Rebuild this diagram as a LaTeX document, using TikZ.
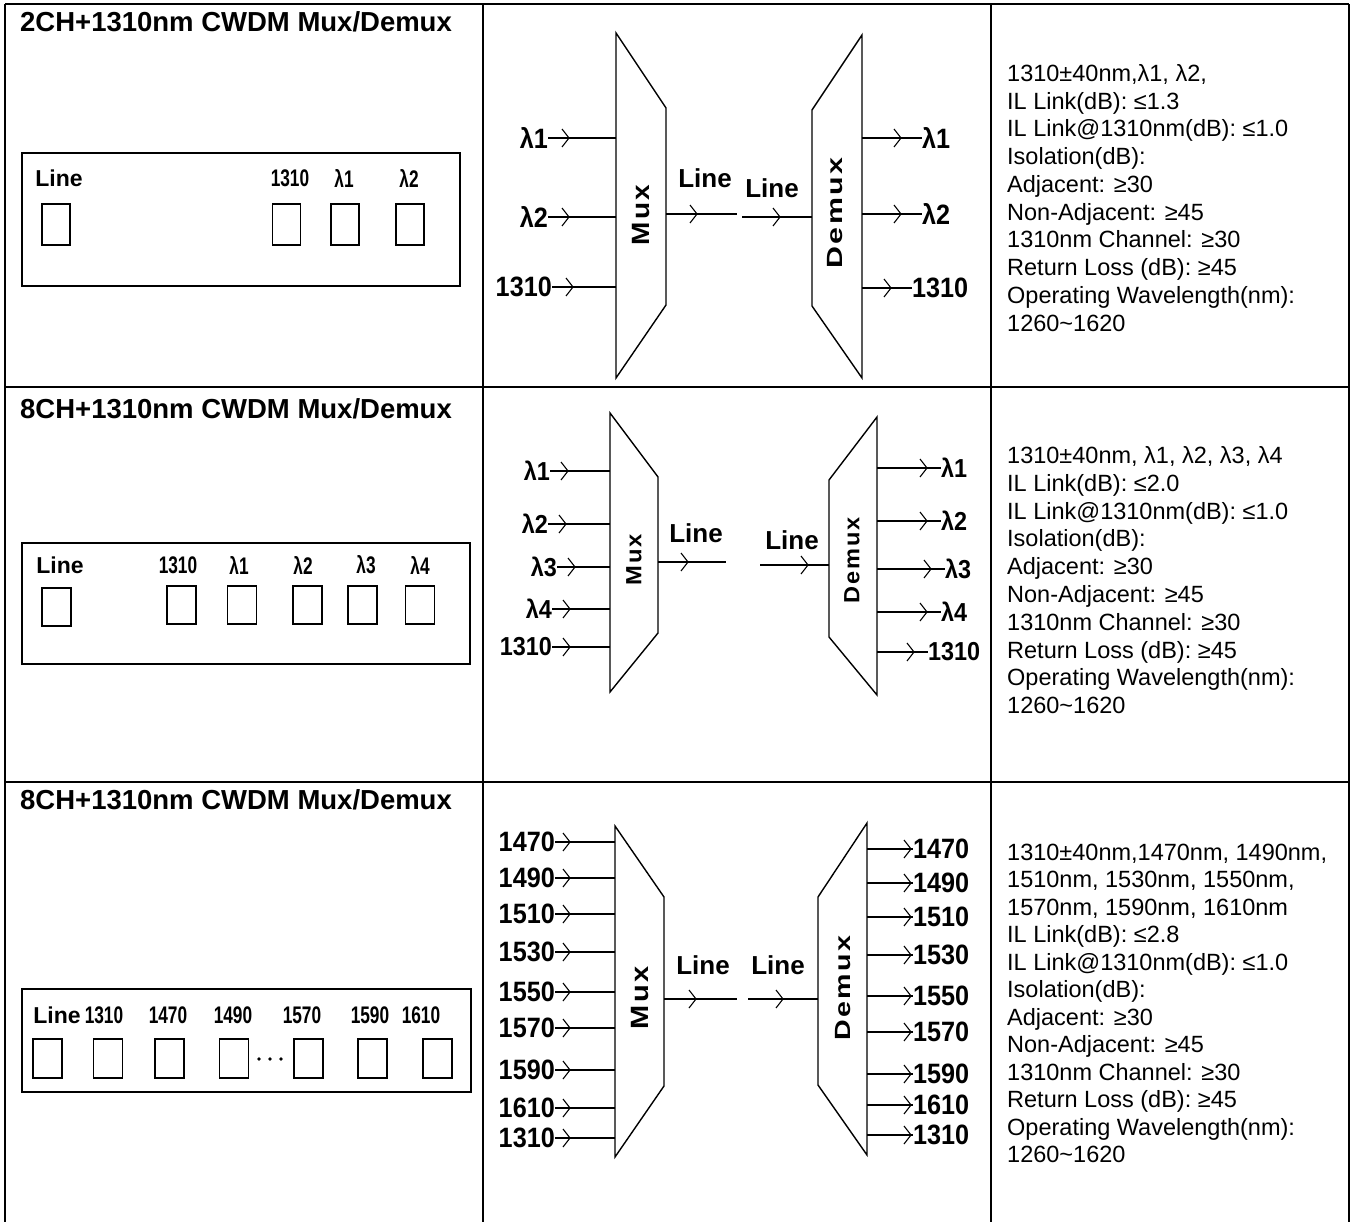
\documentclass[tikz,border=0pt]{standalone}
\usepackage{fontspec}
\setmainfont{Liberation Sans}
\newfontfamily\nfont[FakeStretch=0.9]{Liberation Sans}
\newfontfamily\pfont[FakeStretch=0.72]{Liberation Sans}
\usetikzlibrary{decorations.markings}
\newcommand{\wtext}[2]{\scalebox{#1}[1]{#2}}
\tikzset{
  tbl/.style={line width=2pt},
  wire/.style={line width=1.4pt},
  pbox/.style={line width=1.5pt},
  arr/.style={postaction={decorate},decoration={markings,mark=at position #1 with {\draw[line width=1.1pt] (-7,-9)--(0,0)--(-7,9);}}},
  title/.style={anchor=west, inner sep=0, font=\bfseries\fontsize{27.5}{30}\selectfont},
  spec/.style={anchor=base west, inner sep=0, font=\fontsize{23.5}{27.7}\selectfont},
  side/.style={inner sep=0, font=\nfont\bfseries\fontsize{#1}{#1}\selectfont},
  side/.default=28,
  pl/.style={inner sep=0, font=\pfont\bfseries\fontsize{24}{24}\selectfont},
  plineb/.style={inner sep=0, font=\bfseries\fontsize{23}{23}\selectfont},
  lbl/.style={inner sep=0, font=\bfseries\fontsize{26}{26}\selectfont},
  mux/.style={rotate=90, inner sep=0, font=\bfseries\fontsize{#1}{#1}\selectfont\addfontfeature{LetterSpace=8}},
  port/.style={draw, line width=1.4pt, inner sep=0, minimum width=28pt, minimum height=40pt},
}
\begin{document}
\begin{tikzpicture}[x=1pt,y=-1pt]
\useasboundingbox (0,0) rectangle (1352,1222);
\fill[white] (0,0) rectangle (1352,1222);
% ---------- table ----------
\draw[tbl] (5,4) -- (1349,4);
\draw[tbl] (5,387) -- (1349,387);
\draw[tbl] (5,782) -- (1349,782);
\draw[tbl] (5,4) -- (5,1222);
\draw[tbl] (483,4) -- (483,1222);
\draw[tbl] (991,4) -- (991,1222);
\draw[tbl] (1349,4) -- (1349,1222);
% ---------- titles ----------
\node[title] (t1) at (20,22) {2CH+1310nm CWDM Mux/Demux};
\node[title] (t2) at (20,409) {8CH+1310nm CWDM Mux/Demux};
\node[title] (t3) at (20,800) {8CH+1310nm CWDM Mux/Demux};
% ---------- specs ----------
\foreach \t [count=\i] in {{1310±40nm,λ1, λ2,},{IL Link(dB): ≤1.3},{IL Link@1310nm(dB): ≤1.0},{Isolation(dB):},{Adjacent: ≥30},{Non-Adjacent: ≥45},{1310nm Channel: ≥30},{Return Loss (dB): ≥45},{Operating Wavelength(nm):},{1260\textasciitilde 1620}}
  \node[spec] (sa\i) at (1007,{81.5+27.75*(\i-1)}) {\t};
\foreach \t [count=\i] in {{1310±40nm, λ1, λ2, λ3, λ4},{IL Link(dB): ≤2.0},{IL Link@1310nm(dB): ≤1.0},{Isolation(dB):},{Adjacent: ≥30},{Non-Adjacent: ≥45},{1310nm Channel: ≥30},{Return Loss (dB): ≥45},{Operating Wavelength(nm):},{1260\textasciitilde 1620}}
  \node[spec] (sb\i) at (1007,{463.5+27.8*(\i-1)}) {\t};
\foreach \t [count=\i] in {{1310±40nm,1470nm, 1490nm,},{1510nm, 1530nm, 1550nm,},{1570nm, 1590nm, 1610nm},{IL Link(dB): ≤2.8},{IL Link@1310nm(dB): ≤1.0},{Isolation(dB):},{Adjacent: ≥30},{Non-Adjacent: ≥45},{1310nm Channel: ≥30},{Return Loss (dB): ≥45},{Operating Wavelength(nm):},{1260\textasciitilde 1620}}
  \node[spec] (sc\i) at (1007,{860+27.5*(\i-1)}) {\t};
% ---------- panel 1 ----------
\draw[pbox] (22,153) rectangle (460,286);
\node[plineb] (p1L) at (59,178) {Line};
\node[pl] (p1a) at (290,178) {1310};
\node[pl] (p1b) at (344,178) {λ1};
\node[pl] (p1c) at (409,178) {λ2};
\node[port, minimum height=41pt] (q1L) at (56,224.5) {};
\node[port, minimum height=41pt] (q1a) at (286.5,224.5) {};
\node[port, minimum height=41pt] (q1b) at (345,224.5) {};
\node[port, minimum height=41pt] (q1c) at (410,224.5) {};
% ---------- panel 2 ----------
\draw[pbox] (22,543) rectangle (470,664);
\node[plineb] (p2L) at (60,565) {Line};
\foreach \t/\xx [count=\i] in {1310/178, λ1/239, λ2/303, λ3/366, λ4/420}
  \node[pl] (p2\i) at (\xx,565) {\t};
\node[port, minimum width=29pt, minimum height=38pt] (q2L) at (56.5,607) {};
\foreach \xx [count=\i] in {181.5,242,307.5,362.5,420}
  \node[port, minimum width=29pt, minimum height=38pt] (q2\i) at (\xx,605) {};
% ---------- panel 3 ----------
\draw[pbox] (22,989) rectangle (471,1092);
\node[plineb] (p3L) at (57,1015) {Line};
\foreach \t/\xx [count=\i] in {1310/104, 1470/168, 1490/233, 1570/302, 1590/370, 1610/421}
  \node[pl] (p3\i) at (\xx,1015) {\t};
\foreach \xx [count=\i] in {47.5,108,169.5,234,308.5,372.5,437.5}
  \node[port, minimum width=29pt, minimum height=39pt] (q3\i) at (\xx,1058.5) {};
\foreach \xx in {259,270,281} \fill (\xx,1059) circle (1.8);
% ---------- diagram 1 ----------
\draw[wire] (616,33) -- (666,108) -- (666,305) -- (616,378) -- cycle;
\draw[wire] (862,35) -- (812,110) -- (812,306) -- (862,378) -- cycle;
\node[mux=25] (mux1) at (641,215) {\wtext{1.12}{Mux}};
\node[mux=22] (dmx1) at (835,213) {\wtext{1.38}{Demux}};
\foreach \t/\yy/\xx [count=\i] in {λ1/138/548, λ2/217/548, 1310/287/552} {
  \node[side, anchor=east] (ia\i) at (\xx,\yy) {\t};
  \coordinate (ma\i) at (616,\yy);
  \draw[wire, arr=21pt] (ia\i.east) -- (ma\i);
}
\coordinate (moa) at (666,214); \coordinate (loa) at (737,214);
\draw[wire, arr=31pt] (moa) -- (loa);
\node[lbl] (la1) at (705,178) {Line};
\coordinate (lia) at (742,217); \coordinate (dia) at (812,217);
\draw[wire, arr=38pt] (lia) -- (dia);
\node[lbl] (la2) at (772,188) {Line};
\foreach \t/\yy/\xx [count=\i] in {λ1/138/922, λ2/214/922, 1310/288/912} {
  \coordinate (da\i) at (862,\yy);
  \node[side, anchor=west] (oa\i) at (\xx,\yy) {\t};
  \draw[wire, arr=-21pt] (da\i) -- (oa\i.west);
}
% ---------- diagram 2 ----------
\draw[wire] (610,413) -- (658,477) -- (658,633) -- (610,692) -- cycle;
\draw[wire] (877,417) -- (829,480) -- (829,637) -- (877,695) -- cycle;
\node[mux=22] (mux2) at (634,560) {\wtext{1.08}{Mux}};
\node[mux=22] (dmx2) at (852,560) {\wtext{1.07}{Demux}};
\foreach \t/\yy/\xx [count=\i] in {λ1/471/550, λ2/524/548, λ3/567/557, λ4/609/552, 1310/647/552} {
  \node[side=26, anchor=east] (ib\i) at (\xx,\yy) {\t};
  \coordinate (mb\i) at (610,\yy);
  \draw[wire, arr=18pt] (ib\i.east) -- (mb\i);
}
\coordinate (mob) at (658,562); \coordinate (lob) at (726,562);
\draw[wire, arr=30pt] (mob) -- (lob);
\node[lbl] (lb1) at (696,533) {Line};
\coordinate (lib) at (760,565); \coordinate (dib) at (829,565);
\draw[wire, arr=48pt] (lib) -- (dib);
\node[lbl] (lb2) at (792,540) {Line};
\foreach \t/\yy/\xx [count=\i] in {λ1/468/941, λ2/521/941, λ3/569/945, λ4/612/941, 1310/652/928} {
  \coordinate (db\i) at (877,\yy);
  \node[side=26, anchor=west] (ob\i) at (\xx,\yy) {\t};
  \draw[wire, arr=-14pt] (db\i) -- (ob\i.west);
}
% ---------- diagram 3 ----------
\draw[wire] (615,826) -- (664,897) -- (664,1086) -- (615,1157) -- cycle;
\draw[wire] (867,823) -- (818,897) -- (818,1085) -- (867,1155) -- cycle;
\node[mux=25] (mux3) at (640,998) {\wtext{1.16}{Mux}};
\node[mux=22] (dmx3) at (843,988) {\wtext{1.30}{Demux}};
\foreach \t/\yy [count=\i] in {1470/842, 1490/878, 1510/914, 1530/952, 1550/992, 1570/1028, 1590/1070, 1610/1108, 1310/1138} {
  \node[side, anchor=east] (ic\i) at (555,\yy) {\t};
  \coordinate (mc\i) at (615,\yy);
  \draw[wire, arr=15pt] (ic\i.east) -- (mc\i);
}
\coordinate (moc) at (664,999); \coordinate (loc) at (737,999);
\draw[wire, arr=32pt] (moc) -- (loc);
\node[lbl] (lc1) at (703,965) {Line};
\coordinate (lic) at (748,999); \coordinate (dic) at (818,999);
\draw[wire, arr=35pt] (lic) -- (dic);
\node[lbl] (lc2) at (778,965) {Line};
\foreach \t/\yy [count=\i] in {1470/849, 1490/883, 1510/917, 1530/955, 1550/996, 1570/1032, 1590/1074, 1610/1105, 1310/1135} {
  \coordinate (dc\i) at (867,\yy);
  \node[side, anchor=west] (oc\i) at (913,\yy) {\t};
  \draw[wire, arr=-2pt] (dc\i) -- (oc\i.west);
}
\end{tikzpicture}
\end{document}
